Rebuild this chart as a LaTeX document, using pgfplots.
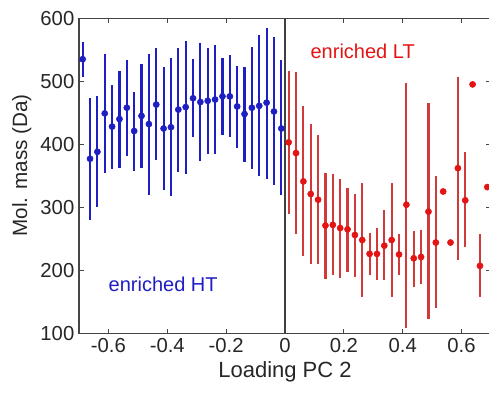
\documentclass[border=0pt]{standalone}
\usepackage{fontspec}
\setmainfont{Liberation Sans}
\usepackage{pgfplots}
\usepackage{pgfplotstable}
\pgfplotsset{compat=1.18}
\definecolor{mblue}{RGB}{30,30,195}
\definecolor{mred}{RGB}{228,20,20}
\definecolor{mredbar}{RGB}{208,58,58}
\definecolor{axgray}{RGB}{70,70,70}

\pgfplotstableread{
x y ep em
-0.6875 535 28 28
-0.6625 377 97 97
-0.6375 388 89 88
-0.6125 449 94 95
-0.5875 428 66 67
-0.5625 440 76 77
-0.5375 458 75 77
-0.5125 421 62 63
-0.4875 445 83 82
-0.4625 432 111 112
-0.4375 463 89 88
-0.4125 425 98 97
-0.3875 427 110 109
-0.3625 455 98 99
-0.3375 459 105 106
-0.3125 473 62 61
-0.2875 467 93 93
-0.2625 469 84 84
-0.2375 471 86 86
-0.2125 476 61 62
-0.1875 476 65 64
-0.1625 460 65 66
-0.1375 448 74 76
-0.1125 458 96 97
-0.0875 461 113 112
-0.0625 466 118 121
-0.0375 452 119 117
-0.0125 425 109 105
}\bluedata

\pgfplotstableread{
x y ep em
0.0125 403 114 113
0.0375 386 129 129
0.0625 341 119 118
0.0875 321 111 111
0.1125 312 102 102
0.1375 271 84 85
0.1625 272 80 80
0.1875 267 78 79
0.2125 265 66 67
0.2375 256 65 66
0.2625 248 91 91
0.2875 226 33 33
0.3125 226 41 42
0.3375 239 56 55
0.3625 248 91 91
0.3875 225 32 33
0.4125 304 194 196
0.4375 219 44 45
0.4625 221 43 43
0.4875 293 172 170
0.5125 244 106 104
0.5375 325 0 0
0.5625 244 0 0
0.5875 362 144 146
0.6125 311 76 74
0.6375 495 0 0
0.6625 207 50 49
0.6875 332 0 0
}\reddata

\begin{document}
\begin{tikzpicture}
\begin{axis}[
  scale only axis,
  width=309pt, height=236.25pt,
  xmin=-0.7, xmax=0.7, ymin=100, ymax=600,
  xtick={-0.6,-0.4,-0.2,0,0.2,0.4,0.6},
  ytick={100,200,300,400,500,600},
  tick align=inside,
  major tick length=3.5pt,
  axis line style={axgray, line width=1pt},
  every tick/.style={axgray, line width=0.8pt},
  /pgf/number format/assume math mode=true,
  ticklabel style={font=\fontsize{15.2}{18}\selectfont, text=black!85},
  xlabel={Loading PC 2},
  ylabel={Mol. mass (Da)},
  xlabel style={font=\fontsize{16.5}{20}\selectfont, text=black!85},
  ylabel style={font=\fontsize{15.5}{19}\selectfont, text=black!85, at={(ticklabel cs:0.533)}},
]
\addplot[black!75, line width=1.3pt, forget plot] coordinates {(0,100) (0,600)};
\addplot[only marks, mark=*, mark size=2.3pt, mblue,
  error bars/.cd, y dir=both, y explicit, error mark=none,
  error bar style={line width=1.6pt, mblue}]
  table[x=x, y=y, y error plus=ep, y error minus=em] {\bluedata};
\addplot[only marks, mark=*, mark size=2.3pt, mred,
  error bars/.cd, y dir=both, y explicit, error mark=none,
  error bar style={line width=1.6pt, mredbar}]
  table[x=x, y=y, y error plus=ep, y error minus=em] {\reddata};
\node[mblue, font=\fontsize{15}{18}\selectfont] at (axis cs:-0.414,177) {enriched HT};
\node[mred, font=\fontsize{15}{18}\selectfont] at (axis cs:0.264,547) {enriched LT};
\end{axis}
\pgfresetboundingbox
\useasboundingbox ([xshift=-59.25pt,yshift=-44.8pt]current axis.south west) rectangle ([xshift=-1.5pt,yshift=13.7pt]current axis.north east);
\end{tikzpicture}
\end{document}
